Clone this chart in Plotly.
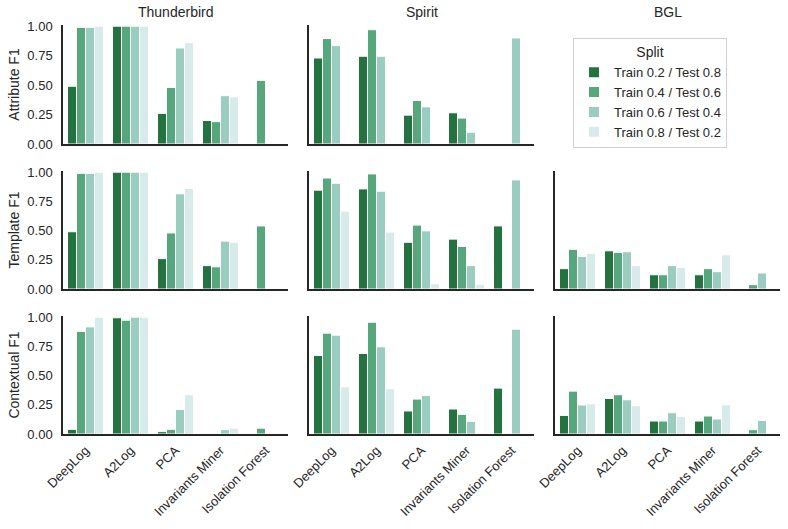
import plotly.graph_objects as go

methods = ["DeepLog", "A2Log", "PCA", "Invariants Miner", "Isolation Forest"]
splits = ["Train 0.2 / Test 0.8", "Train 0.4 / Test 0.6", "Train 0.6 / Test 0.4", "Train 0.8 / Test 0.2"]
datasets = ["Thunderbird", "Spirit", "BGL"]
metrics = ["Attribute F1", "Template F1", "Contextual F1"]
colors = ["#237240", "#57a77c", "#9acdbf", "#d8ebeb"]

thunderbird_attr = [
    [0.49, 1.00, 0.26, 0.20, None],
    [0.99, 1.00, 0.48, 0.19, 0.54],
    [0.99, 1.00, 0.815, 0.41, None],
    [1.00, 1.00, 0.86, 0.40, None],
]
spirit_attr = [
    [0.73, 0.745, 0.245, 0.265, None],
    [0.895, 0.97, 0.37, 0.22, None],
    [0.835, 0.745, 0.315, 0.10, 0.90],
    [None, None, None, None, None],
]
thunderbird_tmpl = [
    [0.49, 1.00, 0.26, 0.20, None],
    [0.99, 1.00, 0.48, 0.19, 0.54],
    [0.99, 1.00, 0.815, 0.41, None],
    [1.00, 1.00, 0.86, 0.40, None],
]
spirit_tmpl = [
    [0.846, 0.857, 0.40, 0.427, 0.54],
    [0.95, 0.985, 0.547, 0.364, None],
    [0.905, 0.837, 0.498, 0.20, 0.934],
    [0.667, 0.487, 0.045, 0.037, None],
]
bgl_tmpl = [
    [0.174, 0.327, 0.122, 0.122, None],
    [0.339, 0.313, 0.122, 0.174, 0.037],
    [0.279, 0.319, 0.20, 0.148, 0.137],
    [0.305, 0.20, 0.185, 0.293, None],
]
thunderbird_ctx = [
    [0.04, 0.995, 0.02, 0.004, None],
    [0.877, 0.974, 0.04, 0.003, 0.05],
    [0.917, 1.00, 0.21, 0.037, None],
    [1.00, 1.00, 0.336, 0.051, None],
]
spirit_ctx = [
    [0.672, 0.689, 0.197, 0.214, 0.393],
    [0.863, 0.957, 0.299, 0.168, None],
    [0.846, 0.746, 0.33, 0.108, 0.897],
    [0.404, 0.387, None, None, None],
]
bgl_ctx = [
    [0.159, 0.304, 0.111, 0.111, None],
    [0.367, 0.336, 0.111, 0.154, 0.037],
    [0.248, 0.293, 0.182, 0.128, 0.116],
    [0.259, 0.242, 0.15, 0.25, None],
]

panels = {
    (0, 0): thunderbird_attr, (0, 1): spirit_attr, (0, 2): None,
    (1, 0): thunderbird_tmpl, (1, 1): spirit_tmpl, (1, 2): bgl_tmpl,
    (2, 0): thunderbird_ctx, (2, 1): spirit_ctx, (2, 2): bgl_ctx,
}

W, H = 788, 529
col_px = [(63, 288), (309, 534), (555, 780)]
row_px = [(25, 144), (171, 289), (316, 434)]

fig = go.Figure()
axis_color = "#262626"
font_family = "Liberation Sans, Arial, sans-serif"

for r in range(3):
    for c in range(3):
        idx = r * 3 + c + 1
        xa = "x" if idx == 1 else f"x{idx}"
        ya = "y" if idx == 1 else f"y{idx}"
        data = panels[(r, c)]
        if data is not None:
            for s in range(4):
                fig.add_trace(go.Bar(
                    x=methods, y=data[s], name=splits[s],
                    marker=dict(color=colors[s], line=dict(color="white", width=1)),
                    xaxis=xa, yaxis=ya,
                    showlegend=(r == 0 and c == 0),
                    legendgroup=splits[s],
                ))
        x0, x1 = col_px[c]
        y0, y1 = row_px[r]
        visible = data is not None
        xkey = "xaxis" if idx == 1 else f"xaxis{idx}"
        ykey = "yaxis" if idx == 1 else f"yaxis{idx}"
        fig.layout[xkey] = dict(
            domain=[x0 / W, x1 / W], anchor=ya, visible=visible,
            range=[-0.5, 4.5], showline=True, linecolor=axis_color, linewidth=1.5,
            showgrid=False, ticks="", tickangle=-45, automargin=False,
            ticklabelstandoff=2,
            showticklabels=(r == 2), tickfont=dict(size=13, color=axis_color, family=font_family),
            zeroline=False, fixedrange=True, categoryorder="array", categoryarray=methods,
        )
        fig.layout[ykey] = dict(
            domain=[1 - y1 / H, 1 - y0 / H], anchor=xa, visible=visible,
            range=[0, 1.01], showline=True, linecolor=axis_color, linewidth=1.5,
            showgrid=False, ticks="", tickvals=[0, 0.25, 0.5, 0.75, 1.0],
            tickformat=".2f", showticklabels=(c == 0), ticklabelstandoff=6,
            tickfont=dict(size=13, color=axis_color, family=font_family),
            zeroline=False, automargin=False,
            title=dict(text=metrics[r], font=dict(size=14, color=axis_color, family=font_family), standoff=4) if c == 0 else None,
        )

annotations = []
for c, name in enumerate(datasets):
    x0, x1 = col_px[c]
    annotations.append(dict(
        text=name, x=(x0 + x1) / 2 / W, y=1 - 12 / H, xref="paper", yref="paper",
        showarrow=False, font=dict(size=14, color=axis_color, family=font_family),
        xanchor="center", yanchor="middle",
    ))

fig.update_layout(
    width=W, height=H,
    margin=dict(l=0, r=0, t=0, b=0, autoexpand=False),
    paper_bgcolor="white", plot_bgcolor="white",
    barmode="group", bargap=0.2, bargroupgap=0,
    annotations=annotations,
    font=dict(family=font_family, color=axis_color),
    legend=dict(
        x=573 / W, y=1 - 38 / H, xanchor="left", yanchor="top",
        bgcolor="white", bordercolor="#d0d0d0", borderwidth=1,
        title=dict(text="Split", side="top center", font=dict(size=14, color=axis_color)),
        font=dict(size=13, color=axis_color, family=font_family),
        tracegroupgap=0, itemsizing="constant",
    ),
)

fig.write_html("out.html", config={"displayModeBar": False},
               post_script="document.body.style.margin='0';")
